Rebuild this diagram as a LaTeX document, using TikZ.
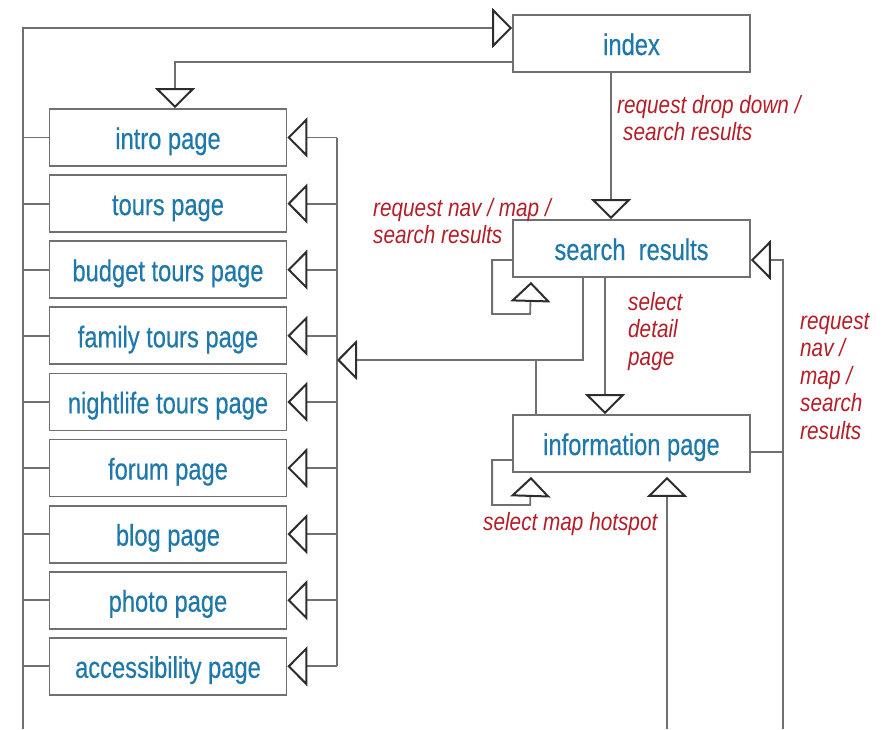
\documentclass[tikz,border=0pt]{standalone}
\usepackage{fontspec}
\setmainfont{Liberation Sans}[FakeStretch=0.87]
\newfontfamily\boxfont{Liberation Sans}[FakeStretch=0.79, FakeBold=0.4]
\newfontfamily\lblfont{Liberation Sans}[FakeStretch=0.83]
\usetikzlibrary{arrows.meta,calc}
\definecolor{lnclr}{RGB}{112,112,112}
\definecolor{tridark}{RGB}{45,45,45}
\definecolor{txtblue}{RGB}{30,120,170}
\definecolor{lblred}{RGB}{180,30,40}

\begin{document}
\begin{tikzpicture}[x=1pt, y=-1pt,
  box/.style={draw=lnclr, line width=1.8pt, minimum width=237pt, minimum height=57pt, inner sep=0pt, text height=23pt, text depth=0pt, text=txtblue, font=\boxfont\fontsize{30}{32}\selectfont},
  lbl/.style={text=lblred, font=\lblfont\fontsize{25}{27.5}\selectfont\itshape, align=left, anchor=north west, inner sep=0pt},
  conn/.style={draw=lnclr, line width=1.8pt},
  tri/.style={-{Triangle[open, length=20pt, width=40pt, line width=2pt, color=tridark]}}]
\useasboundingbox (0,0) rectangle (884,729);

% main pages
\node[box] (index) at (631.5,43.5) {index};
\node[box] (search) at (631.5,248.5) {search\ \ results};
\node[box] (info) at (631.5,443.5) {information page};

% left column
\foreach \nm/\txt [count=\i from 0] in {intro/intro page, tours/tours page, budget/budget tours page, family/family tours page, night/nightlife tours page, forum/forum page, blog/blog page, photo/photo page, access/accessibility page}
  \node[box] (\nm) at (168,137.5+66.1*\i) {\txt};

\coordinate (botL) at (23,729);
\coordinate (busR) at (337,137.5);
\coordinate (busIn) at (337,360);
\coordinate (botM) at (667,729);
\coordinate (botR) at (783,729);

% left and right buses
\draw[conn, tri] (botL) |- ([yshift=15.5pt]index.west);
\draw[conn, tri] ([yshift=-18.5pt]index.west) -| ([xshift=7pt]intro.north);
\draw[conn] (intro.east -| busR) -- (access.east -| busR);
\foreach \nm in {intro,tours,budget,family,night,forum,blog,photo,access}{
  \draw[conn] (\nm.west -| botL) -- (\nm.west);
  \draw[conn, tri] (\nm.east -| busR) -- (\nm.east);
}

% search results
\draw[conn, tri] ([xshift=-20.5pt]index.south) -- ([xshift=-20.5pt]search.north);
\draw[conn, tri] ([yshift=-11.5pt]search.west) -- ++(-20,0) |- ++(38,54) -- ([xshift=-100.5pt,yshift=-4pt]search.south);
\draw[conn, tri] ([xshift=-48.5pt]search.south) |- (busIn);
\draw[conn] ([xshift=24pt]info.north west) -- ++(0,-55);
\draw[conn, tri] (botR) |- ([yshift=-11.5pt]search.east);

% information page
\draw[conn, tri] ([xshift=-26.5pt]search.south) -- ([xshift=-26.5pt]info.north);
\draw[conn] ([yshift=-8.5pt]info.east) -- ++(33,0);
\draw[conn, tri] ([yshift=-16.5pt]info.west) -- ++(-20,0) |- ++(38,45) -- ([xshift=-100.5pt,yshift=-4pt]info.south);
\draw[conn, tri] (botM) -- ([xshift=35.5pt,yshift=-4pt]info.south);

% labels
\node[lbl] (lDrop) at (617,95) {request drop down /\\\hspace*{6pt}search results};
\node[lbl] (lNav) at (373,198) {request nav / map /\\search results};
\node[lbl] (lSel) at (628,292) {select\\detail\\page};
\node[lbl] (lNavR) at (800,313) {request\\nav /\\map /\\search\\results};
\node[lbl] (lMap) at (483,512) {select map hotspot};
\end{tikzpicture}
\end{document}
